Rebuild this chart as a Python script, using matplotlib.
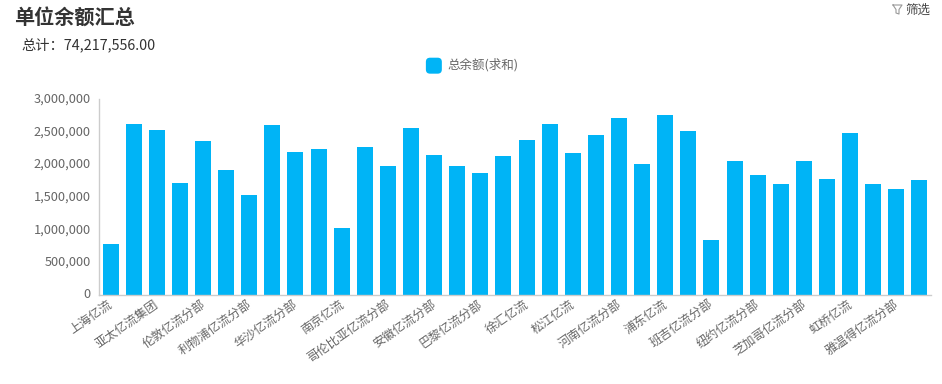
import numpy as np
from matplotlib import pyplot as plt
from matplotlib.legend_handler import HandlerPatch
from matplotlib.lines import Line2D
from matplotlib.patches import FancyBboxPatch, Patch
from matplotlib.transforms import ScaledTranslation

plt.rcParams['font.family'] = ['Noto Sans CJK SC', 'DejaVu Sans']

W, H = 942, 384

#(0) Data:
values = [780000, 2620000, 2520000, 1710000, 2360000, 1910000, 1530000, 2600000, 2190000,
          2240000, 1030000, 2260000, 1970000, 2560000, 2140000, 1970000, 1860000, 2130000,
          2380000, 2620000, 2170000, 2450000, 2710000, 2010000, 2760000, 2510000, 840000,
          2050000, 1840000, 1700000, 2050000, 1770000, 2480000, 1700000, 1630000, 1760000]
tick_labels = ['上海亿流', '亚太亿流集团', '伦敦亿流分部', '利物浦亿流分部', '华沙亿流分部', '南京亿流',
               '哥伦比亚亿流分部', '安徽亿流分部', '巴黎亿流分部', '徐汇亿流', '松江亿流', '河南亿流分部',
               '浦东亿流', '班吉亿流分部', '纽约亿流分部', '芝加哥亿流分部', '虹桥亿流', '雅温得亿流分部']
yticks = [0, 500000, 1000000, 1500000, 2000000, 2500000, 3000000]
series_name = '总余额(求和)'
title = '单位余额汇总'
total = '总计：74,217,556.00'
filter_label = '筛选'

c_bar, c_axis, c_text = '#00B4F6', '#CCCCCC', '#666666'


class HandlerRounded(HandlerPatch):
	def create_artists(self, legend, orig, xd, yd, width, height, fontsize, trans):
		p = FancyBboxPatch((xd + 2, yd - 2.5), 7.5, 7.5, boxstyle='round,pad=2,rounding_size=3',
		                   facecolor=orig.get_facecolor(), edgecolor='none', transform=trans)
		return [p]


#(1) Plot:
fig = plt.figure(figsize=(W / 100, H / 100), dpi=100)
ax = fig.add_axes([99 / W, 1 - 295 / H, 832 / W, 196 / H])

x = np.arange(len(values))
ax.bar(x, values, width=0.69, color=c_bar, zorder=2)
ax.set_xlim(-0.5, len(values) - 0.5)
ax.set_ylim(0, 3000000)

ax.set_yticks(yticks)
ax.set_yticklabels([f'{v:,}' for v in yticks], size=9.2, color=c_text)
ax.set_xticks(x[::2])
ax.set_xticklabels(tick_labels, size=8.8, color=c_text, rotation=35, ha='right', va='top', rotation_mode='anchor')
ax.tick_params(axis='y', length=0, pad=6)
ax.tick_params(axis='x', length=0, pad=2)
shift = ScaledTranslation(-3 / 100, 0, fig.dpi_scale_trans)
for t in ax.get_xticklabels():
	t.set_transform(t.get_transform() + shift)
shift = ScaledTranslation(0, 1.5 / 100, fig.dpi_scale_trans)
for t in ax.get_yticklabels():
	t.set_transform(t.get_transform() + shift)
for s in ['top', 'right']:
	ax.spines[s].set_visible(False)
for s in ['left', 'bottom']:
	ax.spines[s].set_color(c_axis)
	ax.spines[s].set_linewidth(1)

#legend:
h = Patch(facecolor=c_bar, label=series_name)
fig.legend(handles=[h], loc='center', bbox_to_anchor=(472 / W, 1 - 65 / H), frameon=False, fontsize=9,
           labelcolor=c_text, handlelength=1.3, handleheight=1.0, handletextpad=0.4,
           handler_map={Patch: HandlerRounded()})

#title etc.:
fig.text(14 / W, 1 - 17 / H, title, size=14.5, weight='bold', color='#333333', ha='left', va='center')
fig.text(21 / W, 1 - 45 / H, total, size=10.3, color='#333333', ha='left', va='center')
fig.text(905 / W, 1 - 10.5 / H, filter_label, size=9, color='#444444', ha='left', va='center')

#filter icon:
fig.add_artist(Line2D(np.array([893, 902, 899, 899, 896, 896, 893]) / W,
                      1 - np.array([5, 5, 9.5, 14, 13, 9.5, 5]) / H, color='#999999', lw=0.8))

plt.savefig('out.png', dpi=100)
